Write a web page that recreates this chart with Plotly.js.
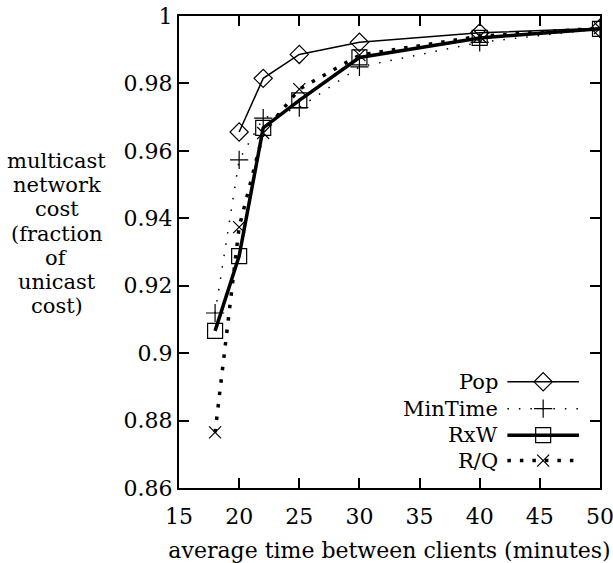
<!DOCTYPE html>
<html><head><meta charset="utf-8">
<script src="https://cdn.plot.ly/plotly-3.0.1.min.js"></script>
<style>body{margin:0;background:#fff}#plot{width:613px;height:563px}</style>
</head><body><div id="plot"></div>
<script>
const xVals = [18, 20, 22, 25, 30, 40, 50];
const popX = [20, 22, 25, 30, 40, 50];
const pop = [0.9656, 0.9815, 0.9886, 0.9922, 0.9950, 0.9964];
const minTime = [0.9119, 0.9573, 0.9697, 0.9728, 0.9849, 0.9922, 0.9962];
const rxw = [0.9066, 0.9288, 0.9668, 0.9750, 0.9877, 0.9935, 0.9962];
const rq = [0.8765, 0.9374, 0.9653, 0.9783, 0.9884, 0.9940, 0.9964];
const seriesNames = ['Pop', 'MinTime', 'RxW', 'R/Q'];
const xTicks = [15, 20, 25, 30, 35, 40, 45, 50];
const yTicks = [0.86, 0.88, 0.9, 0.92, 0.94, 0.96, 0.98, 1];
const yTickText = ['0.86', '0.88', '0.9', '0.92', '0.94', '0.96', '0.98', '1'];
const yTitleLines = ['multicast', 'network', 'cost', '(fraction', 'of', 'unicast', 'cost)'];

const FONT = 'DejaVu Serif, serif';
const styles = [
  {line: {color: '#000', width: 1.5}, marker: {symbol: 'diamond-open', size: 14, color: '#000', line: {width: 1.2, color: '#000'}}},
  {line: {color: '#000', width: 1.5, dash: '1.5px,10px'}, marker: {symbol: 'cross-thin-open', size: 13, color: '#000', line: {width: 1.2, color: '#000'}}},
  {line: {color: '#000', width: 3.5}, marker: {symbol: 'square-open', size: 15, color: '#000', line: {width: 1.2, color: '#000'}}},
  {line: {color: '#000', width: 3.5, dash: '3.5px,9px'}, marker: {symbol: 'x-thin-open', size: 12, color: '#000', line: {width: 1.2, color: '#000'}}}
];
const dataX = [popX, xVals, xVals, xVals];
const dataY = [pop, minTime, rxw, rq];

const traces = [];
for (let i = 0; i < 4; i++) {
  traces.push({x: dataX[i], y: dataY[i], mode: 'lines+markers', name: seriesNames[i],
    line: styles[i].line, marker: styles[i].marker, showlegend: false, hoverinfo: 'skip'});
}
// custom legend samples on an overlay axis (0..1 plot-area coords)
const legY = [0.225, 0.168, 0.112, 0.058];
const annotations = [];
for (let i = 0; i < 4; i++) {
  traces.push({x: [0.78, 0.865, 0.95], y: [legY[i], legY[i], legY[i]], xaxis: 'x2', yaxis: 'y2',
    mode: 'lines', line: styles[i].line, showlegend: false, hoverinfo: 'skip'});
  traces.push({x: [0.865], y: [legY[i]], xaxis: 'x2', yaxis: 'y2', mode: 'markers',
    marker: styles[i].marker, showlegend: false, hoverinfo: 'skip'});
  annotations.push({xref: 'x2', yref: 'y2', x: 0.762, y: legY[i], xanchor: 'right', yanchor: 'middle',
    text: seriesNames[i], showarrow: false, font: {family: FONT, size: 21, color: '#000'}});
}
const titleTopPx = 161, titleStepPx = 24.2, plotTop = 16, plotH = 472;
for (let k = 0; k < yTitleLines.length; k++) {
  const py = titleTopPx + k * titleStepPx;
  annotations.push({xref: 'paper', yref: 'paper', x: (57 - 179) / 421, y: 1 - (py - plotTop) / plotH,
    xanchor: 'center', yanchor: 'middle', text: yTitleLines[k], showarrow: false,
    font: {family: FONT, size: 21, color: '#000'}});
}

const layout = {
  width: 613, height: 563,
  margin: {l: 179, r: 13, t: 16, b: 75},
  paper_bgcolor: '#fff', plot_bgcolor: '#fff',
  font: {family: FONT, size: 22, color: '#000'},
  xaxis: {range: [15, 50], tickvals: xTicks, ticks: 'inside', ticklen: 10, tickwidth: 2, tickcolor: '#000',
    showline: true, linewidth: 2, linecolor: '#000', mirror: 'allticks', showgrid: false, zeroline: false,
    tickfont: {family: FONT, size: 22}, ticklabelstandoff: 8, ticklabeloverflow: 'allow',
    title: {text: 'average time between clients (minutes)', font: {family: FONT, size: 22}, standoff: 14}},
  yaxis: {range: [0.86, 1], tickvals: yTicks, ticktext: yTickText, ticks: 'inside', ticklen: 10, tickwidth: 2, tickcolor: '#000',
    showline: true, linewidth: 2, linecolor: '#000', mirror: 'allticks', showgrid: false, zeroline: false,
    tickfont: {family: FONT, size: 22}, ticklabeloverflow: 'allow'},
  xaxis2: {overlaying: 'x', range: [0, 1], visible: false, fixedrange: true},
  yaxis2: {overlaying: 'y', range: [0, 1], visible: false, fixedrange: true},
  annotations: annotations,
  showlegend: false
};
Plotly.newPlot('plot', traces, layout, {displayModeBar: false, staticPlot: true});
</script></body></html>
